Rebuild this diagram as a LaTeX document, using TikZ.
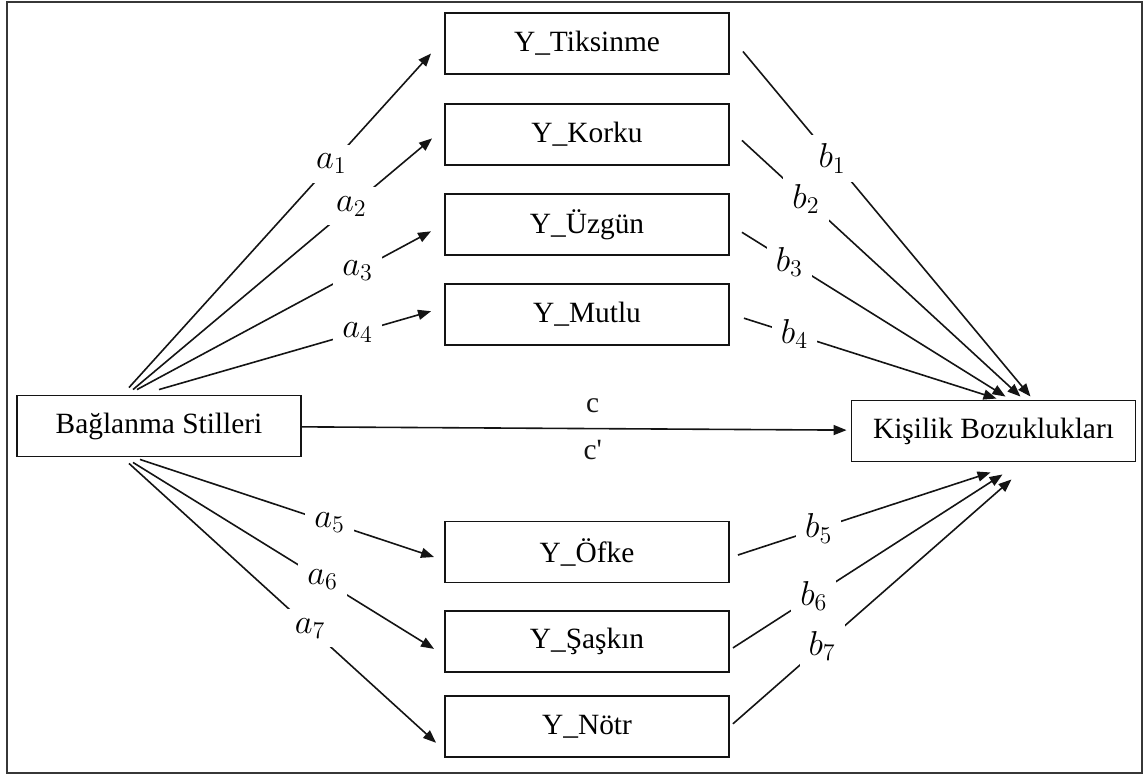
\documentclass[tikz,border=0pt]{standalone}
\usepackage{fontspec}
\setmainfont{Liberation Serif}
\usepackage{tikz}
\usetikzlibrary{arrows.meta, positioning, calc}
\definecolor{framegray}{RGB}{55,55,55}
\definecolor{linegray}{RGB}{20,20,20}

\begin{document}
\begin{tikzpicture}[
  x=0.5pt, y=-0.5pt,
  font=\fontsize{14.7pt}{17pt}\selectfont,
  box/.style={
    draw=linegray, line width=0.95pt, fill=white,
    minimum width=142pt, minimum height=30.5pt,
    inner sep=2pt, align=center
  },
  arrow/.style={-{Triangle[length=6.5pt, width=5pt]}, line width=0.8pt, color=linegray},
  coef/.style={fill=white, inner sep=4.5pt, text=black, font=\fontsize{17.5pt}{20pt}\selectfont},
]
\useasboundingbox (0,0) rectangle (1144,775);
\draw[framegray, line width=1.4pt] (7,2) rectangle (1142,773);

\node[box] (bag)  at (159,426)   {Bağlanma Stilleri};
\node[box] (kisi) at (993.5,431) {Kişilik Bozuklukları};

% mediators, upper group
\node[box] (tiks) at (587,43.5) {Y\_Tiksinme};
\node[box, below=14pt of tiks]    (kork)  {Y\_Korku};
\node[box, below=13.5pt of kork]  (uzgun) {Y\_Üzgün};
\node[box, below=13.5pt of uzgun] (mutlu) {Y\_Mutlu};

% mediators, lower group
\node[box] (ofke) at (587,552) {Y\_Öfke};
\node[box, below=13.5pt of ofke]  (saskin) {Y\_Şaşkın};
\node[box, below=11pt of saskin]  (notr)   {Y\_Nötr};

% a paths
\draw[arrow] ($(bag.north)+(-30,-7)$) -- node[coef, pos=.67] {$a_1$} ($(tiks.west)+(-13,10)$);
\draw[arrow] ($(bag.north)+(-26,-5)$) -- node[coef, pos=.73] {$a_2$} ($(kork.west)+(-12,4)$);
\draw[arrow] ($(bag.north)+(-22,-5)$) -- node[coef, pos=.75] {$a_3$} ($(uzgun.west)+(-13,7)$);
\draw[arrow] ($(bag.north)+(0,-5)$)   -- node[coef, pos=.73] {$a_4$} ($(mutlu.west)+(-13,-3)$);
\draw[arrow] ($(bag.south)+(-19,2)$)  -- node[coef, pos=.645] {$a_5$} ($(ofke.west)+(-10,5)$);
\draw[arrow] ($(bag.south)+(-26,5)$)  -- node[coef, pos=.63] {$a_6$} ($(saskin.west)+(-10,7)$);
\draw[arrow] ($(bag.south)+(-30,6)$)  -- node[coef, pos=.59] {$a_7$} ($(notr.west)+(-8,16)$);

% b paths
\draw[arrow] ($(tiks.east)+(13,8)$)   -- node[coef, pos=.31] {$b_1$} ($(kisi.north)+(37,-3)$);
\draw[arrow] ($(kork.east)+(12,6)$)   -- node[coef, pos=.23] {$b_2$} ($(kisi.north)+(27,-3)$);
\draw[arrow] ($(uzgun.east)+(12,8)$)  -- node[coef, pos=.18] {$b_3$} ($(kisi.north)+(12,-3)$);
\draw[arrow] ($(mutlu.east)+(14,4)$)  -- node[coef, pos=.20] {$b_4$} ($(kisi.north)+(3,-1)$);
\draw[arrow] ($(ofke.east)+(8,3)$)    -- node[coef, pos=.32] {$b_5$} ($(kisi.south)+(-3,10)$);
\draw[arrow] ($(saskin.east)+(3,6)$)  -- node[coef, pos=.30] {$b_6$} ($(kisi.south)+(9,12)$);
\draw[arrow] ($(notr.east)+(3,-3)$)   -- node[coef, pos=.32] {$b_7$} ($(kisi.south)+(18,17)$);

% direct path
\draw[arrow, shorten >=2pt] (bag) -- node[pos=.53, above=4pt] {c} node[pos=.53, below=2pt] {c\textquotesingle} (kisi);

\end{tikzpicture}
\end{document}
